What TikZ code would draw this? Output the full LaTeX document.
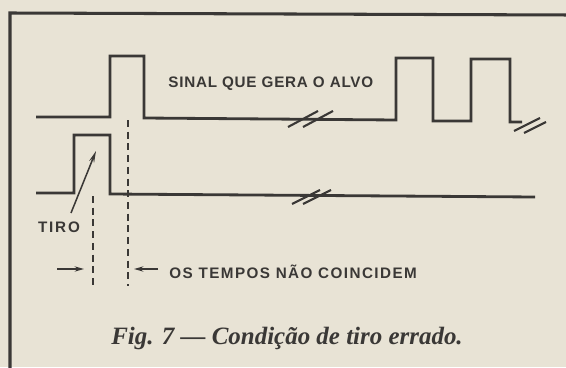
\documentclass[tikz,border=0pt]{standalone}
\usepackage{fontspec}
\usepackage{tikz}
\usetikzlibrary{arrows, arrows.meta, positioning}
\setmainfont{Liberation Serif}
\newfontfamily\lblfont{Liberation Sans}
\definecolor{paper}{RGB}{232,227,213}
\definecolor{ink}{RGB}{58,56,54}

\begin{document}
\begin{tikzpicture}[x=0.03cm, y=-0.03cm,
    wave/.style={ink, line width=2.4pt, line join=miter},
    brk/.style={ink, line width=1.8pt},
    guide/.style={ink, line width=1.3pt, dash pattern=on 6pt off 4pt},
    lbl/.style={ink, font=\lblfont\bfseries\fontsize{13}{15}\selectfont, inner sep=1pt}]
      \fill[paper] (0, 0) rectangle (566, 367);
      \useasboundingbox (0, 0) rectangle (566, 367);

      % frame
      \draw[ink, line width=2.6pt] (10, 370) -- (10, 13) -- (570, 15);

      % signal that generates the target
      \draw[wave] (36, 117) -- (110, 117) -- (110, 56) -- (144, 56) -- (144, 118) -- (396, 120)
        -- (396, 58) -- (433, 58) -- (433, 121) -- (471, 121) -- (471, 59) -- (510, 59) -- (510, 122) -- (522, 122);
      \draw[brk] (288, 127) -- (318, 111);
      \draw[brk] (303, 127) -- (333, 111);
      \draw[brk] (514, 131) -- (540, 118);
      \draw[brk] (524, 133) -- (546, 122);

      % shot
      \draw[wave] (36, 193) -- (74, 193) -- (74, 135) -- (110, 135) -- (110, 194) -- (535, 197);
      \draw[brk] (292, 204) -- (320, 190);
      \draw[brk] (303, 204) -- (331, 190);

      % time marks
      \draw[guide] (93, 196) -- (93, 286);
      \draw[guide] (128, 120) -- (128, 286);

      \node[lbl, anchor=west] (sinal) at (167, 84) {\addfontfeature{LetterSpace=5}SINAL QUE GERA O ALVO};
      \node[lbl] (tiro) at (59, 227) {\addfontfeature{LetterSpace=12}TIRO};
      \node[lbl, anchor=west] (tempos) at (168, 272) {\addfontfeature{LetterSpace=9.5}OS TEMPOS NÃO COINCIDEM};

      \coordinate (tirotail) at (71, 213);
      \coordinate (tirotip) at (96, 151);
      \draw[-{Stealth[length=10pt, width=4.5pt]}, ink, line width=1.3pt] (tirotail) -- (tirotip);

      \coordinate (lefttail) at (57, 269);
      \coordinate (lefttip) at (84, 269);
      \coordinate (righttail) at (158, 269);
      \coordinate (righttip) at (134, 269);
      \draw[-{Stealth[length=8pt, width=4.5pt]}, ink, line width=1.3pt] (lefttail) -- (lefttip);
      \draw[-{Stealth[length=8pt, width=4.5pt]}, ink, line width=1.3pt] (righttail) -- (righttip);

      \node[ink, anchor=base, font=\fontsize{21.3}{25}\selectfont\bfseries\itshape] (caption) at (287, 344)
        {Fig. 7 --- Condição de tiro errado.};

    \end{tikzpicture}
\end{document}
